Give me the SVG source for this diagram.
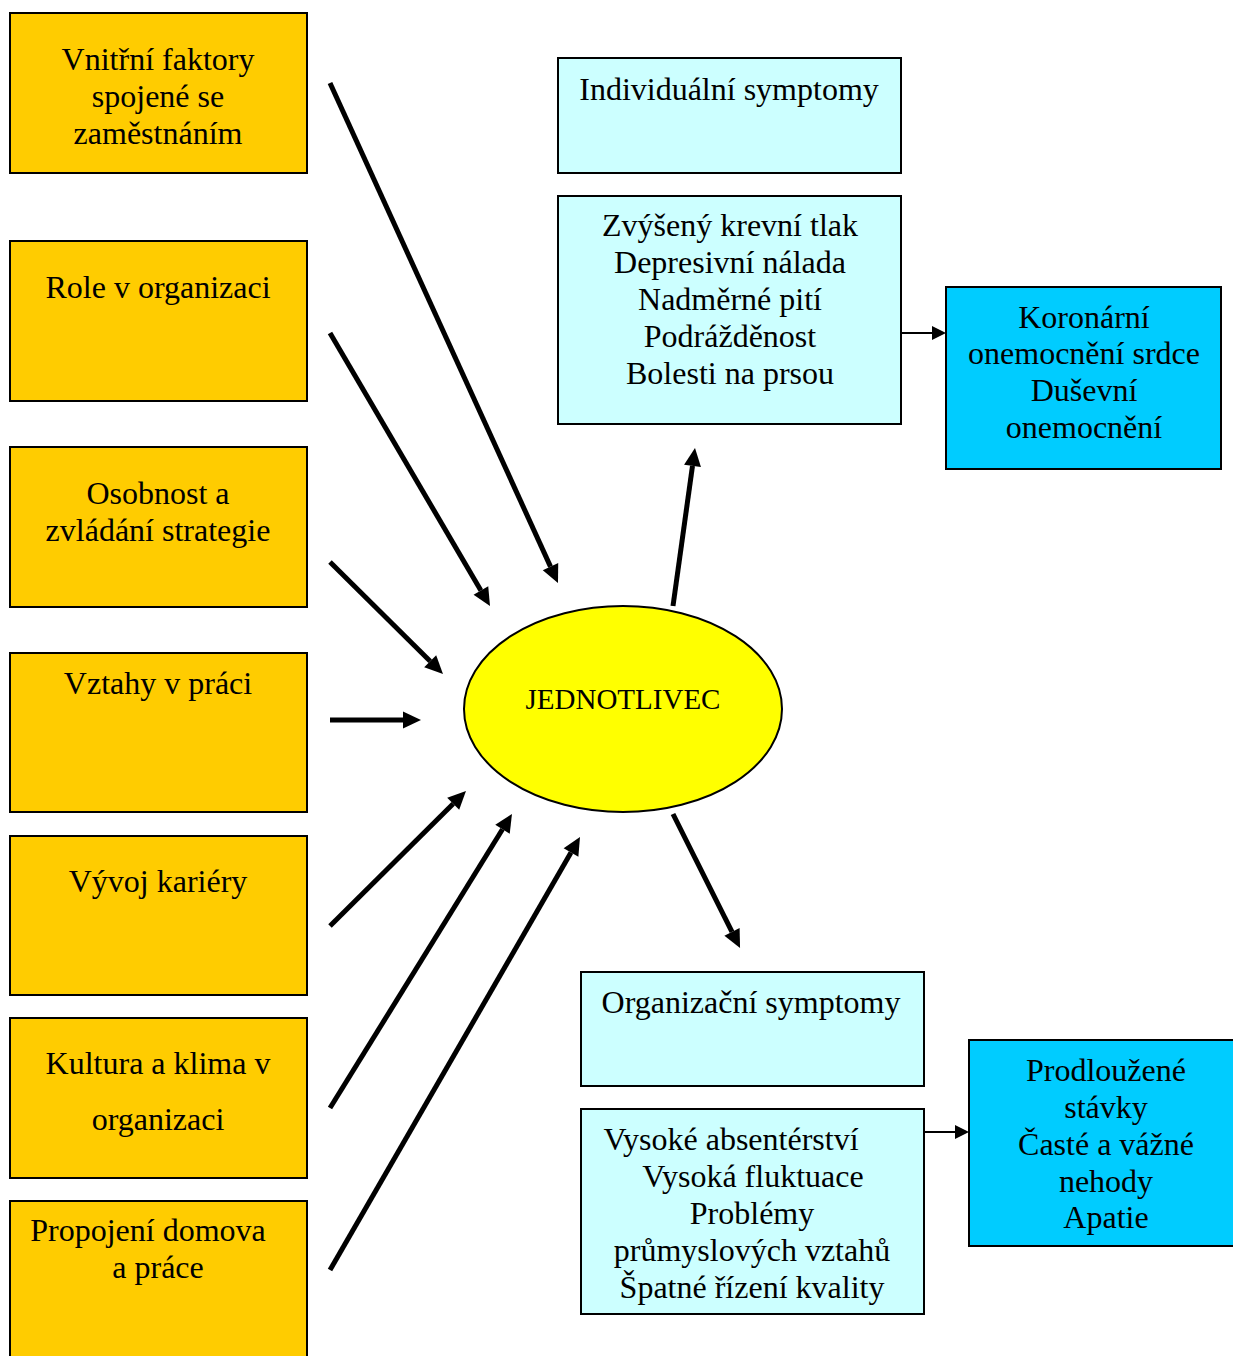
<svg xmlns="http://www.w3.org/2000/svg" width="1233" height="1356" viewBox="0 0 1233 1356">
<style>
text{font-family:"Liberation Serif","Times New Roman",serif;font-size:32px;fill:#000;text-anchor:middle}
.o{fill:#FFCC00;stroke:#000;stroke-width:2}
.c{fill:#CCFFFF;stroke:#000;stroke-width:2}
.b{fill:#00CCFF;stroke:#000;stroke-width:2}
.thick{stroke:#000;stroke-width:5;fill:none;marker-end:url(#big)}
.thin{stroke:#000;stroke-width:2;fill:none;marker-end:url(#small)}
</style>
<defs>
<marker id="big" markerUnits="userSpaceOnUse" markerWidth="20" markerHeight="18" refX="0" refY="0" viewBox="0 -9 20 18" orient="auto" overflow="visible"><path d="M0,-8.5 L18,0 L0,8.5 Z" fill="#000"/></marker>
<marker id="small" markerUnits="userSpaceOnUse" markerWidth="16" markerHeight="16" refX="0" refY="0" viewBox="0 -8 16 16" orient="auto" overflow="visible"><path d="M0,-7 L14,0 L0,7 Z" fill="#000"/></marker>
</defs>
<rect width="1233" height="1356" fill="#fff"/>
<g id="n1"><rect class="o" x="10" y="13" width="297" height="160"/><text x="158" y="70">Vnitřní faktory</text><text x="158" y="107">spojené se</text><text x="158" y="144">zaměstnáním</text></g>
<g id="n2"><rect class="o" x="10" y="241" width="297" height="160"/><text x="158" y="298">Role v organizaci</text></g>
<g id="n3"><rect class="o" x="10" y="447" width="297" height="160"/><text x="158" y="504">Osobnost a</text><text x="158" y="541">zvládání strategie</text></g>
<g id="n4"><rect class="o" x="10" y="653" width="297" height="159"/><text x="158" y="694">Vztahy v práci</text></g>
<g id="n5"><rect class="o" x="10" y="836" width="297" height="159"/><text x="158" y="892">Vývoj kariéry</text></g>
<g id="n6"><rect class="o" x="10" y="1018" width="297" height="160"/><text x="158" y="1074">Kultura a klima v</text><text x="158" y="1130">organizaci</text></g>
<g id="n7"><rect class="o" x="10" y="1201" width="297" height="170"/><text x="148" y="1241">Propojení domova</text><text x="158" y="1278">a práce</text></g>
<g id="center"><ellipse cx="623" cy="709" rx="159" ry="103" fill="#FFFF00" stroke="#000" stroke-width="2"/><text x="623" y="709" style="font-size:29px">JEDNOTLIVEC</text></g>
<g id="ind"><rect class="c" x="558" y="58" width="343" height="115"/><text x="729" y="100">Individuální symptomy</text></g>
<g id="indlist"><rect class="c" x="558" y="196" width="343" height="228"/><text x="730" y="236">Zvýšený krevní tlak</text><text x="730" y="273">Depresivní nálada</text><text x="730" y="310">Nadměrné pití</text><text x="730" y="347">Podrážděnost</text><text x="730" y="384">Bolesti na prsou</text></g>
<g id="kor"><rect class="b" x="946" y="287" width="275" height="182"/><text x="1084" y="328">Koronární</text><text x="1084" y="364">onemocnění srdce</text><text x="1084" y="401">Duševní</text><text x="1084" y="438">onemocnění</text></g>
<g id="org"><rect class="c" x="581" y="972" width="343" height="114"/><text x="751" y="1013">Organizační symptomy</text></g>
<g id="orglist"><rect class="c" x="581" y="1109" width="343" height="205"/><text x="731" y="1150">Vysoké absentérství</text><text x="753" y="1187">Vysoká fluktuace</text><text x="752" y="1224">Problémy</text><text x="752" y="1261">průmyslových vztahů</text><text x="752" y="1298">Špatné řízení kvality</text></g>
<g id="prod"><rect class="b" x="969" y="1040" width="275" height="206"/><text x="1106" y="1081">Prodloužené</text><text x="1106" y="1118">stávky</text><text x="1106" y="1155">Časté a vážné</text><text x="1106" y="1192">nehody</text><text x="1106" y="1228">Apatie</text></g>
<g id="connectors">
<line class="thick" x1="330" y1="83" x2="550.5" y2="566.6"/>
<line class="thick" x1="330" y1="333" x2="480.9" y2="590.5"/>
<line class="thick" x1="330" y1="562" x2="430.2" y2="661.3"/>
<line class="thick" x1="330" y1="720" x2="403" y2="720"/>
<line class="thick" x1="330" y1="926" x2="453.2" y2="803.7"/>
<line class="thick" x1="330" y1="1108" x2="502.5" y2="829.3"/>
<line class="thick" x1="330" y1="1270" x2="571" y2="852.6"/>
<line class="thick" x1="673" y1="606" x2="692.5" y2="465.8"/>
<line class="thick" x1="673" y1="814" x2="732" y2="931.9"/>
<line class="thin" x1="901" y1="333" x2="932" y2="333"/>
<line class="thin" x1="924" y1="1132" x2="955" y2="1132"/>
</g>
</svg>
